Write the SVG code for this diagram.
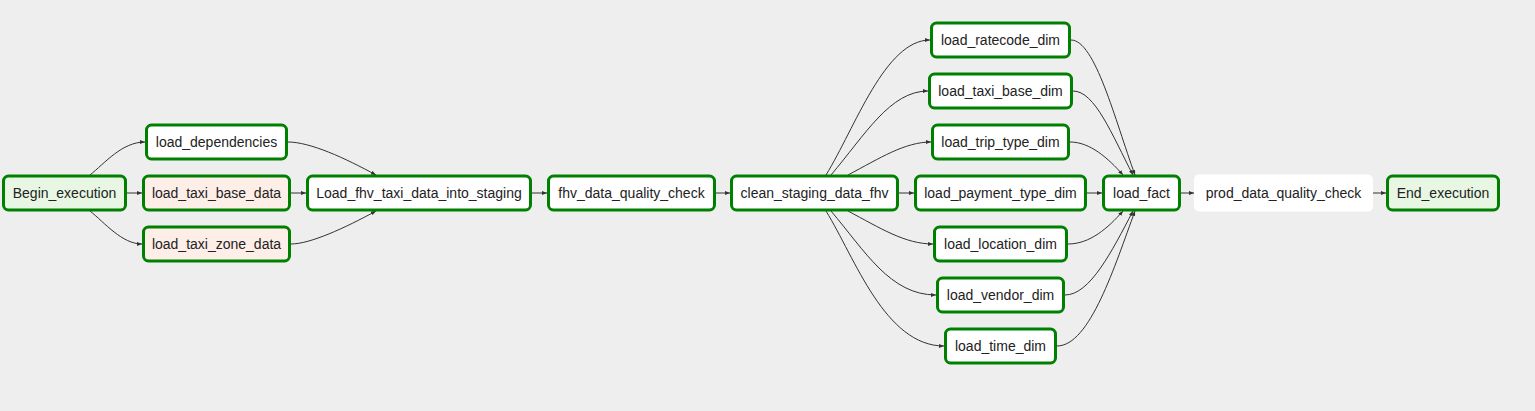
<svg xmlns="http://www.w3.org/2000/svg" width="1535" height="411" viewBox="0 0 1535 411">
<style>
.n rect{stroke:#008000;stroke-width:3;fill:#ffffff}
.n.dummy rect{fill:#e8f7e4}
.n.stage rect{fill:#fdeee8}
.n.plain rect{stroke:none;fill:#ffffff}
.n text{font-family:"Liberation Sans",Arial,sans-serif;font-size:14px;fill:#222;text-anchor:middle}
.e path{fill:none;stroke:#333;stroke-width:1}
</style>
<defs>
<marker id="arr" viewBox="0 0 10 8" refX="10" refY="4" markerWidth="5" markerHeight="4" orient="auto" markerUnits="userSpaceOnUse">
<path d="M0,0 L10,4 L0,8 z" fill="#333"/>
</marker>
</defs>
<rect x="0" y="0" width="1535" height="411" fill="#eeeeee"/>
<g id="edges" class="e">
<path marker-end="url(#arr)" d="M90,175 C105,163 122,142 145,142"/>
<path marker-end="url(#arr)" d="M127,193 L142,193"/>
<path marker-end="url(#arr)" d="M90,211 C105,223 122,244 142,244"/>
<path marker-end="url(#arr)" d="M288,142 C310,142 345,158 376,175"/>
<path marker-end="url(#arr)" d="M291,193 L306,193"/>
<path marker-end="url(#arr)" d="M291,244 C310,244 345,228 376,211"/>
<path marker-end="url(#arr)" d="M532,193 L547,193"/>
<path marker-end="url(#arr)" d="M716,193 L730,193"/>
<path marker-end="url(#arr)" d="M826,175 C855,128 885,40 930,40"/>
<path marker-end="url(#arr)" d="M831,175 C865,135 890,91 928,91"/>
<path marker-end="url(#arr)" d="M848,175 C880,158 905,142 931,142"/>
<path marker-end="url(#arr)" d="M899,193 L914,193"/>
<path marker-end="url(#arr)" d="M848,211 C880,228 905,244 933,244"/>
<path marker-end="url(#arr)" d="M831,211 C865,251 890,295 936,295"/>
<path marker-end="url(#arr)" d="M826,211 C855,258 885,346 944,346"/>
<path marker-end="url(#arr)" d="M1071,40 C1095,40 1115,120 1135,175"/>
<path marker-end="url(#arr)" d="M1073,91 C1095,91 1112,135 1133,175"/>
<path marker-end="url(#arr)" d="M1070,142 C1090,142 1108,158 1123,175"/>
<path marker-end="url(#arr)" d="M1087,193 L1102,193"/>
<path marker-end="url(#arr)" d="M1068,244 C1090,244 1108,228 1123,211"/>
<path marker-end="url(#arr)" d="M1065,295 C1090,295 1112,251 1133,211"/>
<path marker-end="url(#arr)" d="M1057,346 C1090,346 1115,265 1135,211"/>
<path marker-end="url(#arr)" d="M1181,193 L1194,193"/>
<path marker-end="url(#arr)" d="M1373,193 L1386,193"/>
</g>
<g id="Begin_execution" class="n dummy"><rect x="3.5" y="176" width="122" height="34" rx="5"/><text x="64.5" y="198">Begin_execution</text></g>
<g id="load_dependencies" class="n"><rect x="146.5" y="125" width="140" height="34" rx="5"/><text x="216.5" y="147">load_dependencies</text></g>
<g id="load_taxi_base_data" class="n stage"><rect x="143.5" y="176" width="146" height="34" rx="5"/><text x="216.5" y="198">load_taxi_base_data</text></g>
<g id="load_taxi_zone_data" class="n stage"><rect x="143.5" y="227" width="146" height="34" rx="5"/><text x="216.5" y="249">load_taxi_zone_data</text></g>
<g id="Load_fhv_taxi_data_into_staging" class="n"><rect x="307.5" y="176" width="223" height="34" rx="5"/><text x="419" y="198">Load_fhv_taxi_data_into_staging</text></g>
<g id="fhv_data_quality_check" class="n"><rect x="548.5" y="176" width="166" height="34" rx="5"/><text x="631.5" y="198">fhv_data_quality_check</text></g>
<g id="clean_staging_data_fhv" class="n"><rect x="731.5" y="176" width="166" height="34" rx="5"/><text x="814.5" y="198">clean_staging_data_fhv</text></g>
<g id="load_ratecode_dim" class="n"><rect x="931.5" y="23" width="138" height="34" rx="5"/><text x="1000.5" y="45">load_ratecode_dim</text></g>
<g id="load_taxi_base_dim" class="n"><rect x="929.5" y="74" width="142" height="34" rx="5"/><text x="1000.5" y="96">load_taxi_base_dim</text></g>
<g id="load_trip_type_dim" class="n"><rect x="932.5" y="125" width="136" height="34" rx="5"/><text x="1000.5" y="147">load_trip_type_dim</text></g>
<g id="load_payment_type_dim" class="n"><rect x="915.5" y="176" width="170" height="34" rx="5"/><text x="1000.5" y="198">load_payment_type_dim</text></g>
<g id="load_location_dim" class="n"><rect x="934.5" y="227" width="132" height="34" rx="5"/><text x="1000.5" y="249">load_location_dim</text></g>
<g id="load_vendor_dim" class="n"><rect x="937.5" y="278" width="126" height="34" rx="5"/><text x="1000.5" y="300">load_vendor_dim</text></g>
<g id="load_time_dim" class="n"><rect x="945.5" y="329" width="110" height="34" rx="5"/><text x="1000.5" y="351">load_time_dim</text></g>
<g id="load_fact" class="n"><rect x="1103.5" y="176" width="76" height="34" rx="5"/><text x="1141.5" y="198">load_fact</text></g>
<g id="prod_data_quality_check" class="n plain"><rect x="1194" y="174.5" width="179" height="37" rx="5"/><text x="1283.5" y="198">prod_data_quality_check</text></g>
<g id="End_execution" class="n dummy"><rect x="1387.5" y="176" width="111" height="34" rx="5"/><text x="1443" y="198">End_execution</text></g>
</svg>
